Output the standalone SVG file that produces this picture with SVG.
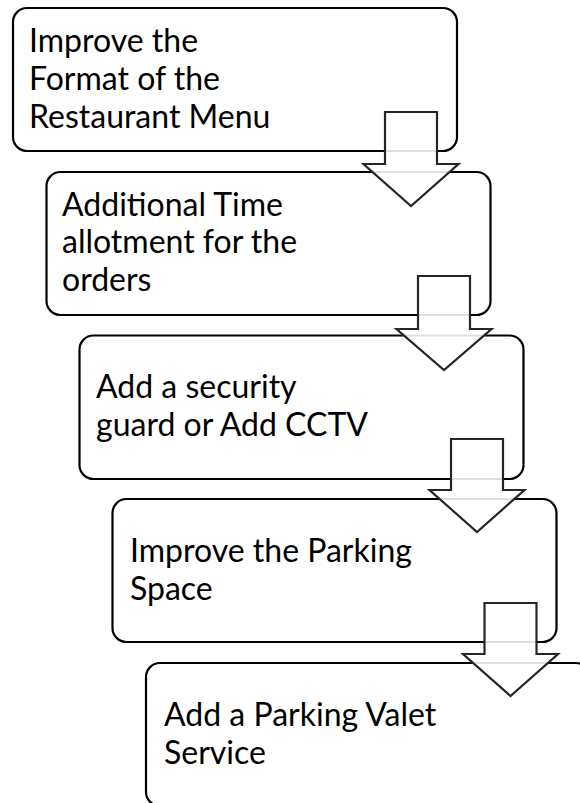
<svg xmlns="http://www.w3.org/2000/svg" width="580" height="803" viewBox="0 0 580 803">
<style>
.box{fill:#ffffff;stroke:#000000;stroke-width:2.2}
.arrow{fill:#ffffff;fill-opacity:0.88;stroke:#262626;stroke-width:2.2;stroke-linejoin:miter}
.lbl{font-family:Lato,"Open Sans","Liberation Sans",sans-serif;font-size:32px;fill:#000000}
</style>
<rect x="0" y="0" width="580" height="803" fill="#ffffff"/>
<g id="node1">
<rect class="box" x="13" y="8" width="444" height="143" rx="14"/>
<text class="lbl" x="29" y="52">Improve the</text>
<text class="lbl" x="29" y="90">Format of the</text>
<text class="lbl" x="29" y="128">Restaurant Menu</text>
</g>
<g id="node2">
<rect class="box" x="46.5" y="172" width="444" height="143" rx="14"/>
<text class="lbl" x="62" y="216">Additional Time</text>
<text class="lbl" x="62" y="253">allotment for the</text>
<text class="lbl" x="62" y="291">orders</text>
</g>
<g id="node3">
<rect class="box" x="79.5" y="335.5" width="444" height="143.5" rx="14"/>
<text class="lbl" x="96" y="398">Add a security</text>
<text class="lbl" x="96" y="436">guard or Add CCTV</text>
</g>
<g id="node4">
<rect class="box" x="112.5" y="499" width="444" height="143" rx="14"/>
<text class="lbl" x="130" y="562">Improve the Parking</text>
<text class="lbl" x="130" y="600">Space</text>
</g>
<g id="node5">
<rect class="box" x="146" y="663" width="444" height="143" rx="14"/>
<text class="lbl" x="164" y="726">Add a Parking Valet</text>
<text class="lbl" x="164" y="764">Service</text>
</g>
<g id="connectors">
<polygon class="arrow" points="385,112 437,112 437,164 458.5,164 411,206 363.5,164 385,164"/>
<polygon class="arrow" points="418,276 470,276 470,329 491.5,329 444,370 396.5,329 418,329"/>
<polygon class="arrow" points="451,439 503,439 503,490 524.5,490 477,532 429.5,490 451,490"/>
<polygon class="arrow" points="484.5,603 536.5,603 536.5,654 558,654 510.5,696 463,654 484.5,654"/>
</g>
</svg>
